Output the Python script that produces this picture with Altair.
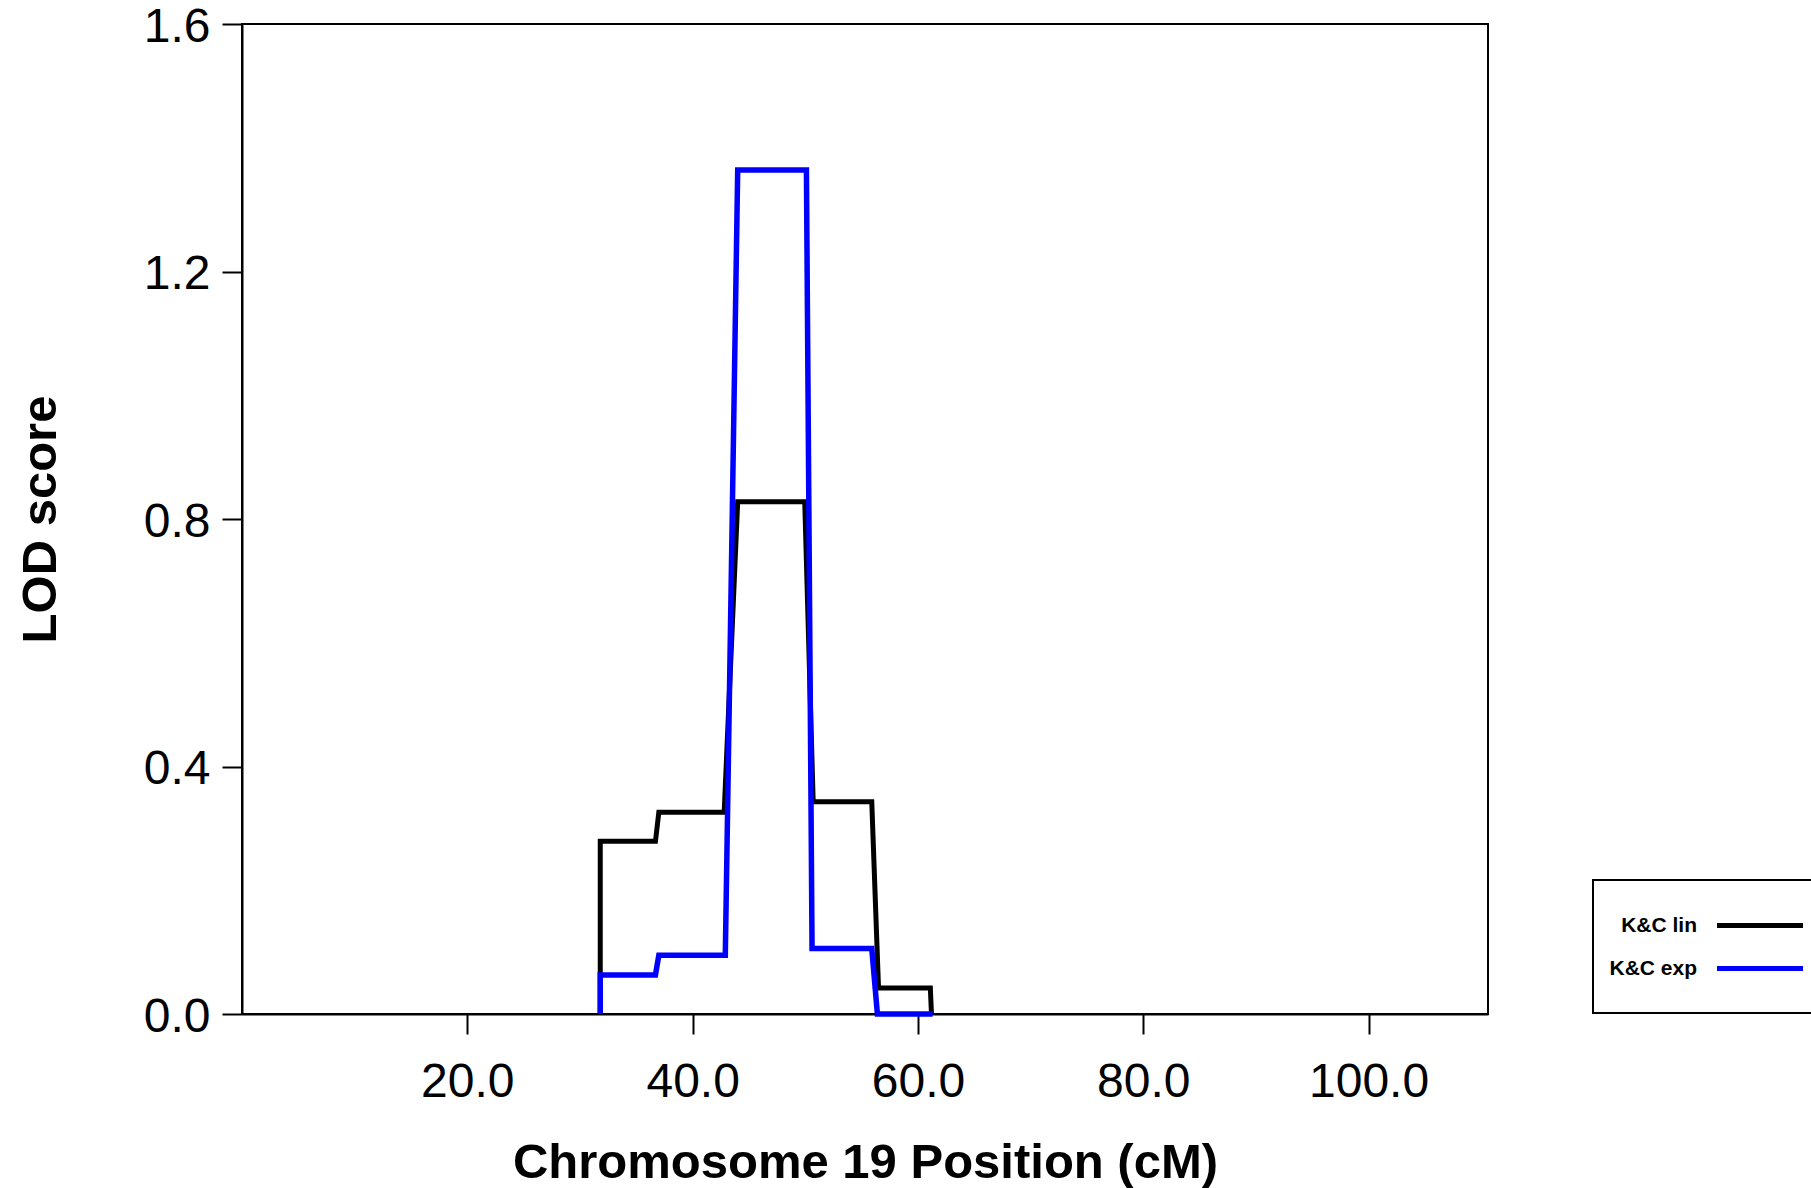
import altair as alt
import pandas as pd

# Series values
lin_x = [31.8, 31.8, 36.7, 37.0, 42.8, 44.0, 49.95, 50.7, 55.9, 56.5, 61.1, 61.2]
lin_y = [0.0, 0.279, 0.279, 0.326, 0.326, 0.828, 0.828, 0.343, 0.343, 0.042, 0.042, 0.0]

exp_x = [31.8, 31.8, 36.7, 37.0, 42.9, 44.0, 50.1, 50.6, 55.9, 56.4, 61.3]
exp_y = [0.0, 0.063, 0.063, 0.095, 0.095, 1.364, 1.364, 0.106, 0.106, 0.0, 0.0]

series_names = ["K&C lin", "K&C exp"]
series_colors = ["#000000", "#0000ff"]
x_ticks = [20, 40, 60, 80, 100]
y_ticks = [0.0, 0.4, 0.8, 1.2, 1.6]

rows = []
for i, (x, y) in enumerate(zip(lin_x, lin_y)):
    rows.append({"pos": x, "lod": y, "series": "K&C lin", "idx": i})
for i, (x, y) in enumerate(zip(exp_x, exp_y)):
    rows.append({"pos": x, "lod": y, "series": "K&C exp", "idx": i})
df = pd.DataFrame(rows)

FONT = "Liberation Sans"
W, H = 1246, 990

# legend symbol: a line drawn to the right of the (right-aligned) label
color = alt.Color(
    "series:N",
    scale=alt.Scale(domain=series_names, range=series_colors),
    legend=alt.Legend(
        title=None,
        orient="none",
        legendX=1351,
        legendY=856,
        symbolType="M3.5,0H13.06",
        symbolSize=324,
        symbolStrokeWidth=5,
        symbolOffset=47,
        labelFont=FONT,
        labelFontSize=21,
        labelFontWeight="bold",
        labelColor="black",
        labelAlign="right",
        labelOffset=0,
        strokeColor="black",
        padding=34,
        rowPadding=21,
    ),
)

x_enc = alt.X(
    "pos:Q",
    scale=alt.Scale(domain=[0, 110.6], nice=False, zero=False),
    axis=alt.Axis(
        values=x_ticks,
        format=".1f",
        title="Chromosome 19 Position (cM)",
        titleX=W / 2,
        titleY=163,
        titleAlign="center",
        titleBaseline="alphabetic",
        labelPadding=24,
    ),
)
y_enc = alt.Y(
    "lod:Q",
    scale=alt.Scale(domain=[0, 1.6], nice=False),
    axis=alt.Axis(
        values=y_ticks,
        format=".1f",
        title="LOD score",
        titleX=-187,
        titleY=H / 2,
        titleAngle=270,
        titleAlign="center",
        titleBaseline="alphabetic",
        labelPadding=12,
        labelBaseline="middle",
        labelOffset=3,
    ),
)

base = alt.Chart(df).encode(x=x_enc, y=y_enc, color=color, order=alt.Order("idx:Q"))

lin_layer = base.transform_filter(alt.datum.series == "K&C lin").mark_line(strokeWidth=5, interpolate="linear")
exp_layer = base.transform_filter(alt.datum.series == "K&C exp").mark_line(strokeWidth=5.5, interpolate="linear")

chart = (
    alt.layer(lin_layer, exp_layer)
    .properties(
        width=W,
        height=H,
        autosize=alt.AutoSizeParams(type="none"),
        padding={"left": 242, "top": 24, "right": 1811 - 242 - W, "bottom": 1188 - 24 - H},
    )
    .configure_view(stroke="black", strokeWidth=2)
    .configure_axis(
        grid=False,
        domainColor="black",
        domainWidth=2,
        tickColor="black",
        tickWidth=2,
        tickSize=20,
        labelFont=FONT,
        labelFontSize=48,
        labelColor="black",
        labelFlush=False,
        labelOverlap=False,
        titleFont=FONT,
        titleFontSize=49,
        titleFontWeight="bold",
        titleColor="black",
    )
    .configure_legend(strokeWidth=2)
)

chart.save("out.html", embed_options={"renderer": "svg", "actions": False})
